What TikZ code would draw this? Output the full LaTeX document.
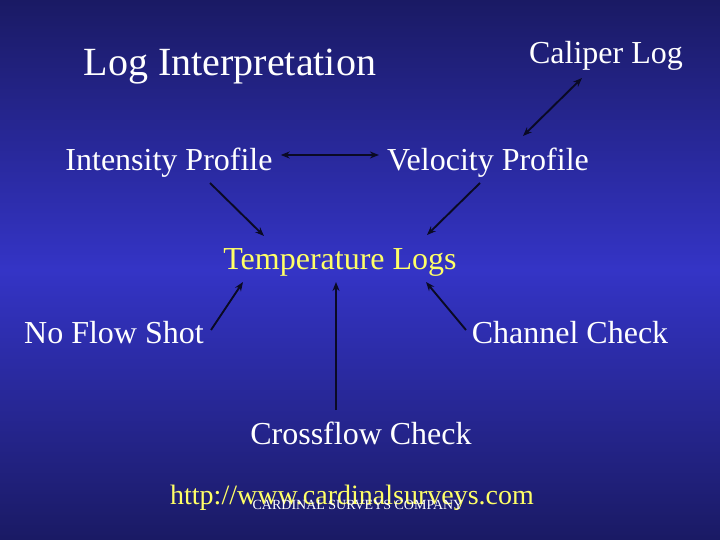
\documentclass[tikz,border=0pt]{standalone}
\usepackage{xcolor}
\usepackage{fontspec}
\setmainfont{Liberation Serif}
\usepackage{tikz}
\definecolor{slidedark}{RGB}{26, 26, 100}
\definecolor{slidelight}{RGB}{52, 52, 198}
\definecolor{logyellow}{RGB}{255, 255, 102}
\definecolor{arrowcolor}{RGB}{10, 10, 36}
\usetikzlibrary{arrows.meta, positioning, calc}

\begin{document}
\begin{tikzpicture}[
    x=1pt, y=-1pt,
    label/.style={inner sep=0pt, anchor=base, text=white, font=\fontsize{32}{38}\selectfont},
    link/.style={-{Stealth[length=9pt, width=7pt]}, line width=1.9pt, arrowcolor},
    biglink/.style={{Stealth[length=9pt, width=7pt]}-{Stealth[length=9pt, width=7pt]}, line width=1.9pt, arrowcolor}
]
    % background
    \useasboundingbox (0,0) rectangle (720,540);
    \begin{scope}[y=1pt]
        \shade[top color=slidedark, bottom color=slidelight] (0,0) rectangle (720,-270);
        \shade[top color=slidelight, bottom color=slidedark] (0,-270) rectangle (720,-540);
    \end{scope}

    % titles
    \node[label, font=\fontsize{40}{48}\selectfont] (title) at (230, 76) {Log Interpretation};
    \node[label] (caliper) at (606, 64) {Caliper Log};

    % profiles
    \node[label] (intensity) at (169, 171) {Intensity Profile};
    \node[label] (velocity) at (488, 171) {Velocity Profile};

    % centre
    \node[label, text=logyellow] (temp) at (340, 269) {Temperature Logs};

    % checks
    \node[label] (noflow) at (114, 343) {No Flow Shot};
    \node[label] (channel) at (570, 343) {Channel Check};
    \node[label] (crossflow) at (361, 444) {Crossflow Check};

    % footer
    \node[label, text=logyellow, font=\fontsize{28}{34}\selectfont] (url) at (352, 504) {http://www.cardinalsurveys.com};
    \node[label, font=\fontsize{14}{17}\selectfont] (company) at (358, 509) {CARDINAL SURVEYS COMPANY};

    \draw[biglink] ($(intensity.base east)+(8,-16)$) -- ($(velocity.base west)+(-8,-16)$);
    \draw[biglink] ($(caliper.base)+(-24,14)$) -- ($(velocity.base)+(35,-35)$);

    \draw[link] ($(intensity.base)+(41,12)$) -- ($(temp.base)+(-76,-33)$);
    \draw[link] ($(velocity.base)+(-8,12)$) -- ($(temp.base)+(87,-34)$);
    \draw[link] ($(noflow.base)+(97,-13)$) -- ($(temp.base)+(-97,13)$);
    \draw[link] ($(crossflow.base)+(-25,-34)$) -- ($(temp.base)+(-4,13)$);
    \draw[link] ($(channel.base)+(-104,-13)$) -- ($(temp.base)+(86,13)$);
\end{tikzpicture}
\end{document}
